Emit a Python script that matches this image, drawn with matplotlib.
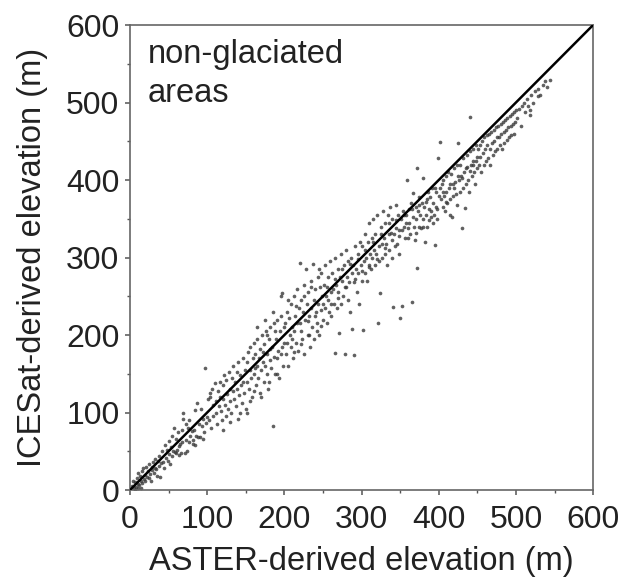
import matplotlib
matplotlib.use("Agg")
import matplotlib.pyplot as plt
from matplotlib.ticker import MultipleLocator

plt.rcParams['font.family'] = ['Liberation Sans', 'DejaVu Sans']

# (ASTER elevation, ICESat elevation), grouped by range
low = [(3, 5), (5, 2), (6, 10), (8, 4), (9, 15), (10, 8), (11, 22), (12, 6), (13, 18), (14, 12),
       (15, 25), (16, 9), (17, 28), (18, 14), (19, 20), (20, 11), (21, 30), (22, 17), (23, 24), (24, 15),
       (25, 33), (26, 21), (27, 12), (28, 30), (29, 26), (30, 36), (31, 22), (32, 29), (33, 40), (34, 27),
       (35, 18), (36, 38), (37, 31), (38, 44), (39, 17), (40, 35), (7, 0), (10, 3), (4, 12), (14, 3)]

b_40_100 = [(42, 50), (43, 36), (45, 58), (46, 41), (48, 52), (49, 38), (50, 63), (51, 47), (53, 55), (54, 44),
            (55, 70), (56, 50), (58, 49), (59, 48), (60, 66), (61, 52), (62, 75), (63, 57), (65, 60), (66, 48),
            (67, 78), (68, 62), (69, 100), (71, 48), (72, 85), (73, 65), (75, 80), (76, 62), (77, 90), (78, 70),
            (80, 76), (81, 60), (82, 64), (83, 78), (84, 103), (86, 70), (87, 112), (88, 68), (90, 85), (91, 68),
            (92, 105), (93, 82), (95, 92), (96, 75), (97, 157), (98, 86), (100, 94), (44, 28), (52, 34), (64, 45),
            (74, 50), (84, 58), (94, 66), (57, 80), (69, 92)]

b_100_150 = [(101, 118), (102, 90), (103, 125), (104, 120), (105, 80), (106, 130), (107, 110), (108, 95), (110, 138),
             (111, 115), (112, 100), (113, 85), (114, 128), (115, 108), (116, 140), (117, 120), (118, 102), (119, 90),
             (120, 135), (121, 118), (122, 148), (123, 110), (124, 95), (125, 142), (126, 124), (127, 105), (128, 152),
             (129, 130), (130, 115), (131, 100), (132, 145), (133, 128), (134, 160), (135, 118), (136, 140), (137, 108),
             (138, 152), (139, 130), (140, 165), (141, 122), (142, 100), (143, 148), (144, 135), (145, 112), (146, 170),
             (147, 140), (148, 125), (149, 155), (150, 105), (152, 99), (140, 92), (130, 88), (120, 78)]

b_150_200 = [(151, 165), (152, 140), (153, 178), (154, 130), (155, 155), (156, 185), (157, 145), (158, 120), (159, 170),
             (160, 190), (161, 150), (162, 175), (163, 135), (164, 160), (165, 195), (166, 145), (167, 170), (168, 125),
             (169, 182), (170, 155), (171, 200), (172, 165), (173, 140), (174, 188), (175, 160), (176, 205), (177, 150),
             (178, 175), (179, 130), (180, 195), (181, 168), (182, 210), (183, 158), (184, 185), (185, 82), (186, 172),
             (187, 215), (188, 150), (189, 195), (190, 170), (191, 220), (192, 180), (193, 145), (194, 205), (195, 175),
             (196, 225), (197, 185), (198, 160), (199, 210), (200, 190), (160, 128), (170, 120), (180, 140), (190, 150),
             (155, 115), (165, 210), (175, 220), (185, 230), (195, 250), (197, 254), (178, 200), (188, 205), (162, 158),
             (172, 178), (182, 182)]

b_200_250 = [(201, 215), (202, 175), (203, 230), (204, 190), (205, 160), (206, 222), (207, 200), (208, 240), (209, 185),
             (210, 210), (211, 170), (212, 250), (213, 205), (214, 225), (215, 190), (216, 260), (217, 215), (218, 180),
             (219, 235), (220, 293), (221, 205), (222, 245), (223, 195), (224, 230), (225, 175), (226, 265), (227, 220),
             (228, 285), (229, 240), (230, 200), (231, 255), (232, 225), (233, 185), (234, 270), (235, 235), (236, 210),
             (237, 292), (238, 245), (239, 195), (240, 260), (241, 230), (242, 215), (243, 275), (244, 240), (245, 200),
             (246, 262), (247, 232), (248, 280), (249, 250), (250, 220), (205, 245), (215, 238), (225, 250), (235, 262),
             (245, 285), (210, 195), (220, 215), (230, 218), (240, 225), (250, 240), (212, 178), (222, 188), (232, 200),
             (242, 205), (248, 212)]

b_250_300 = [(251, 265), (252, 235), (253, 290), (254, 250), (255, 215), (256, 275), (257, 245), (258, 230), (259, 295),
             (260, 255), (261, 225), (262, 280), (263, 260), (264, 240), (265, 177), (266, 300), (267, 265), (268, 235),
             (269, 285), (270, 255), (271, 202), (272, 275), (273, 240), (274, 305), (275, 270), (276, 250), (277, 290),
             (278, 176), (279, 262), (280, 310), (281, 275), (282, 245), (283, 295), (284, 268), (285, 230), (286, 300),
             (287, 280), (288, 208), (289, 290), (290, 174), (291, 272), (292, 315), (293, 285), (294, 255), (295, 305),
             (296, 280), (297, 240), (298, 320), (299, 290), (300, 270), (255, 262), (265, 272), (275, 285), (285, 292),
             (295, 298), (260, 240), (270, 248), (280, 262), (290, 268), (300, 282)]

b_300_350 = [(301, 315), (302, 206), (303, 295), (304, 280), (305, 330), (306, 300), (307, 270), (308, 320), (309, 290),
             (310, 345), (311, 305), (312, 285), (313, 325), (314, 300), (315, 350), (316, 310), (317, 290), (318, 330),
             (319, 305), (320, 355), (321, 215), (322, 315), (323, 295), (324, 254), (325, 340), (326, 318), (327, 300),
             (328, 360), (329, 325), (330, 305), (331, 345), (332, 318), (333, 290), (334, 355), (335, 330), (336, 310),
             (337, 365), (338, 332), (339, 300), (340, 350), (341, 236), (342, 330), (343, 315), (344, 368), (345, 338),
             (346, 318), (347, 355), (348, 335), (349, 305), (350, 222), (352, 237), (305, 310), (315, 320), (325, 330),
             (335, 345), (345, 348), (310, 288), (320, 298), (330, 312), (340, 322), (348, 328)]

b_350_400 = [(351, 350), (353, 335), (354, 360), (355, 340), (356, 325), (357, 355), (358, 345), (359, 400), (360, 338),
             (361, 362), (362, 345), (363, 330), (364, 370), (365, 243), (366, 352), (367, 383), (368, 340), (369, 322),
             (370, 365), (371, 350), (372, 415), (372, 286), (373, 360), (374, 340), (375, 378), (376, 355), (377, 338),
             (378, 370), (379, 350), (380, 402), (381, 365), (382, 320), (383, 372), (384, 355), (385, 340), (386, 385),
             (387, 362), (388, 348), (389, 378), (390, 360), (391, 390), (392, 345), (393, 370), (394, 355), (395, 316),
             (396, 385), (397, 365), (398, 350), (399, 428), (400, 380), (355, 355), (365, 362), (375, 368), (385, 375),
             (395, 390), (360, 325), (370, 332), (380, 340), (390, 352), (398, 362)]

b_400_450 = [(401, 390), (402, 449), (403, 375), (404, 395), (405, 365), (406, 400), (407, 380), (408, 360), (409, 405),
             (410, 385), (411, 370), (412, 410), (413, 390), (414, 375), (415, 355), (416, 408), (417, 352), (418, 395),
             (419, 380), (420, 415), (421, 398), (422, 382), (423, 368), (424, 420), (425, 448), (426, 400), (427, 385),
             (428, 420), (429, 405), (430, 338), (431, 390), (432, 428), (433, 410), (434, 364), (435, 395), (436, 432),
             (437, 417), (438, 400), (439, 385), (440, 438), (441, 481), (442, 420), (443, 405), (444, 440), (445, 425),
             (446, 410), (447, 395), (448, 445), (449, 430), (450, 415), (405, 385), (415, 395), (425, 405), (435, 415),
             (445, 420), (410, 372), (420, 390), (430, 402), (440, 412), (448, 425)]

high = [(451, 440), (452, 420), (453, 445), (454, 430), (455, 410), (456, 450), (457, 435), (458, 420), (459, 455),
        (460, 440), (461, 425), (462, 458), (463, 445), (464, 428), (465, 460), (466, 440), (467, 420), (468, 462),
        (469, 448), (470, 432), (471, 465), (472, 450), (473, 438), (474, 468), (475, 455), (476, 440), (477, 470),
        (478, 455), (479, 445), (480, 472), (481, 460), (482, 440), (483, 475), (484, 462), (485, 448), (486, 478),
        (487, 465), (488, 452), (489, 480), (490, 468), (491, 455), (492, 482), (493, 470), (494, 458), (495, 485),
        (496, 472), (497, 460), (498, 488), (499, 475), (500, 490), (502, 480), (504, 492), (506, 470), (508, 495),
        (510, 500), (512, 488), (514, 505), (516, 495), (518, 490), (518, 484), (520, 510), (522, 500), (525, 515),
        (528, 508), (529, 518), (531, 510), (535, 522), (538, 528), (544, 529), (540, 520)]

segments = [low, b_40_100, b_100_150, b_150_200, b_200_250, b_250_300,
            b_300_350, b_350_400, b_400_450, high]
aster = [p[0] for seg in segments for p in seg]
icesat = [p[1] for seg in segments for p in seg]

one_to_one = [0, 600]

fig = plt.figure(figsize=(6.25, 5.83), dpi=100)
ax = fig.add_axes([0.208, 0.1595, 0.741, 0.7976])

ax.scatter(aster, icesat, s=7, color='#3a3a3a', linewidths=0, alpha=0.8, zorder=2)
ax.plot(one_to_one, one_to_one, color='black', lw=1.8, zorder=3)

ax.set_xlim(0, 600)
ax.set_ylim(0, 600)
ax.xaxis.set_major_locator(MultipleLocator(100))
ax.yaxis.set_major_locator(MultipleLocator(100))
ax.xaxis.set_minor_locator(MultipleLocator(50))
ax.yaxis.set_minor_locator(MultipleLocator(50))
ax.tick_params(which='both', direction='out', top=False, right=False,
               color='#555555', labelsize=23, labelcolor='#222222')
ax.tick_params(which='major', length=3.6, width=1.1)
ax.tick_params(which='minor', length=2.5, width=1.0)
ax.tick_params(axis='x', which='both', pad=7)
ax.tick_params(axis='y', which='both', pad=4)
for s in ax.spines.values():
    s.set_color('#666666')
    s.set_linewidth(1.2)

ax.set_xlabel('ASTER-derived elevation (m)', fontsize=23.5, color='#222222', labelpad=8)
ax.set_ylabel('ICESat-derived elevation (m)', fontsize=23.5, color='#222222', labelpad=13)

ax.text(0.038, 0.97, 'non-glaciated\nareas', transform=ax.transAxes, ha='left', va='top',
        fontsize=23.5, color='#222222', linespacing=1.35)

fig.savefig('out.png', dpi=100)
